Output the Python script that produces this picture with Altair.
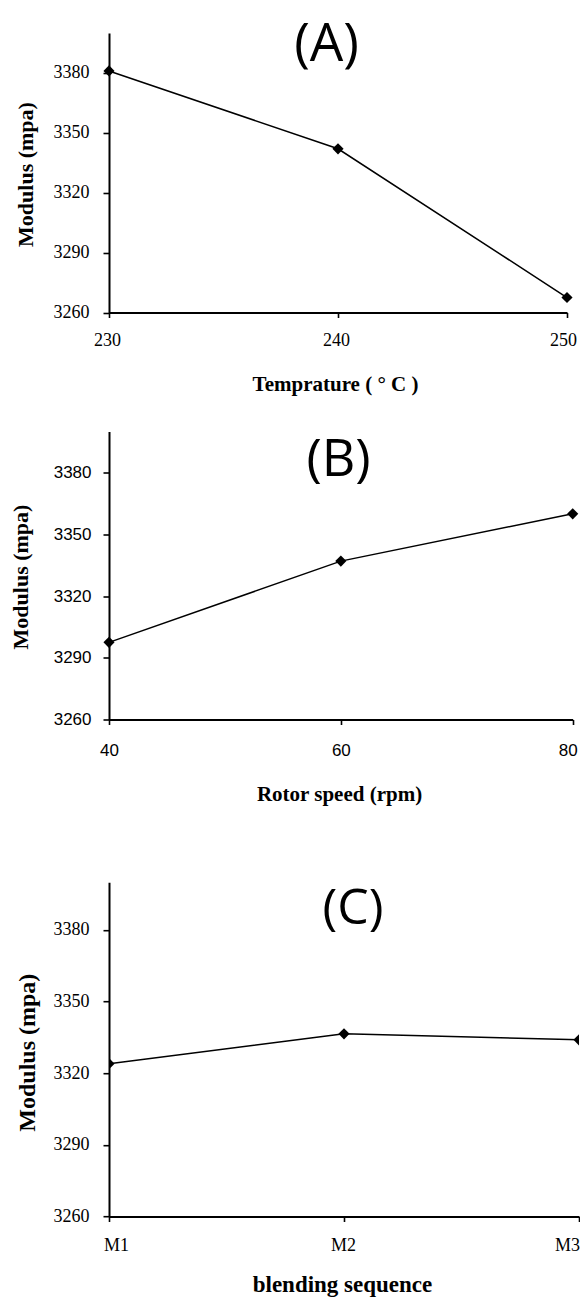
import altair as alt
import pandas as pd

# ---- data ----
temps = [230, 240, 250]
mod_temp = [3381, 3342, 3267.5]
speeds = [40, 60, 80]
mod_speed = [3297.5, 3337, 3360]
seqs = ["M1", "M2", "M3"]
mod_seq = [3324, 3336.5, 3334]
y_ticks = [3260, 3290, 3320, 3350, 3380]
y_domain = [3260, 3400]
panel_labels = ["(A)", "(B)", "(C)"]
x_titles = ["Temprature ( ° C )", "Rotor speed (rpm)", "blending sequence"]
y_title = "Modulus (mpa)"

SERIF = "Liberation Serif"
SANS = "Liberation Sans"
TITLE_FONT = "Open Sans"


def common_axis(**kw):
    base = dict(grid=False, domainColor="black", tickColor="black",
                labelColor="black", titleColor="black", domainWidth=2,
                tickWidth=1.6, titleFontWeight="bold", titleFont=SERIF,
                titleBaseline="middle", titleAlign="center", labelLimit=200)
    base.update(kw)
    return alt.Axis(**base)


def build(df, lab_df, xenc_type, xscale, xaxis, yaxis, width, height,
          label_size, label_dx=0, clip=False):
    x = alt.X(f"x:{xenc_type}", scale=xscale, axis=xaxis)
    y = alt.Y("y:Q", scale=alt.Scale(domain=y_domain, nice=False, zero=False),
              axis=yaxis)
    base = alt.Chart(df).encode(x=x, y=y)
    line = base.mark_line(color="black", strokeWidth=1.5, clip=clip)
    pts = base.mark_point(shape="diamond", filled=True, size=125,
                          color="black", opacity=1, clip=clip)
    txt = alt.Chart(lab_df).mark_text(
        font=TITLE_FONT, fontSize=label_size, baseline="alphabetic",
        align="center", color="black", dx=label_dx
    ).encode(x=x, y=y, text="t:N")
    return alt.layer(line, pts, txt).properties(width=width, height=height)


# ---------- Panel A ----------
dfA = pd.DataFrame({"x": temps, "y": mod_temp})
labA = pd.DataFrame({"x": [239.5], "y": [3386], "t": [panel_labels[0]]})
axA_x = common_axis(values=temps, title=x_titles[0], titleFontSize=21,
                    titleX=226, titleY=71.5, labelFont=SERIF, labelFontSize=18,
                    labelBaseline="middle", labelPadding=23, tickSize=5,
                    labelFlush=False, format="d",
                    labelOffset={"condition": {"test": "datum.value == 250", "value": -4}, "value": -2})
axA_y = common_axis(values=y_ticks, title=y_title, titleFontSize=22,
                    titleAngle=270, titleX=-84, titleY=141, labelFont=SERIF,
                    labelFontSize=18, labelPadding=14, tickSize=6, format="d")
A = build(dfA, labA, "Q", alt.Scale(domain=[230, 250], nice=False, zero=False),
          axA_x, axA_y, 458, 279.5, 53)

# ---------- Panel B ----------
dfB = pd.DataFrame({"x": speeds, "y": mod_speed})
labB = pd.DataFrame({"x": [59.8], "y": [3378.4], "t": [panel_labels[1]]})
axB_x = common_axis(values=speeds, title=x_titles[1], titleFontSize=21,
                    titleX=230, titleY=75, labelFont=SANS, labelFontSize=17,
                    labelBaseline="middle", labelPadding=26, tickSize=5,
                    labelFlush=False, format="d",
                    labelOffset={"condition": {"test": "datum.value == 80", "value": -5}, "value": 0})
axB_y = common_axis(values=y_ticks, title=y_title, titleFontSize=22,
                    titleAngle=270, titleX=-89, titleY=145, labelFont=SANS,
                    labelFontSize=17, labelPadding=12, tickSize=6, format="d")
B = build(dfB, labB, "Q", alt.Scale(domain=[40, 80], nice=False, zero=False),
          axB_x, axB_y, 463.7, 288, 52)

# ---------- Panel C ----------
dfC = pd.DataFrame({"x": seqs, "y": mod_seq})
labC = pd.DataFrame({"x": ["M2"], "y": [3382.5], "t": [panel_labels[2]]})
axC_x = common_axis(title=x_titles[2], titleFontSize=23,
                    titleX=233, titleY=67.5, labelFont=SERIF, labelFontSize=18,
                    labelBaseline="middle", labelPadding=24, tickSize=5,
                    labelFlush=False, labelAngle=0,
                    labelOffset={"condition": [{"test": "datum.value == 'M1'", "value": 7},
                                               {"test": "datum.value == 'M3'", "value": -12}],
                                 "value": -1})
axC_y = common_axis(values=y_ticks, title=y_title, titleFontSize=24,
                    titleAngle=270, titleX=-81.5, titleY=170, labelFont=SERIF,
                    labelFontSize=18, labelPadding=14, tickSize=6, format="d")
C = build(dfC, labC, "O", alt.Scale(type="point", padding=0, domain=seqs),
          axC_x, axC_y, 470, 334.3, 50, label_dx=9, clip=True)

inner = alt.vconcat(B, C, spacing=162.7, bounds="flush")
chart = alt.vconcat(A, inner, spacing=118.5, bounds="flush").properties(
    padding={"left": 9, "top": 18, "right": 0, "bottom": 2},
    background="white",
).configure_view(strokeWidth=0)

chart.save("out.html", embed_options={"renderer": "svg", "actions": False})
